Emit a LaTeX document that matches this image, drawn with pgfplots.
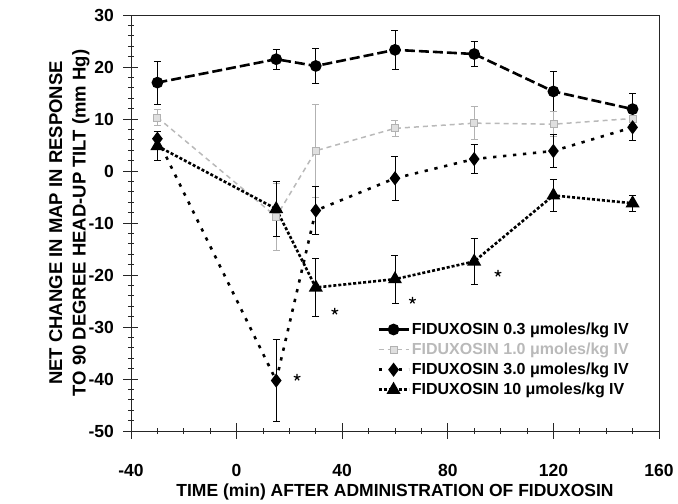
\documentclass[border=0pt]{standalone}
\usepackage{fontspec}
\setmainfont{Liberation Sans}
\usepackage{pgfplots}
\pgfplotsset{compat=1.18}
\begin{document}
\begin{tikzpicture}
\begin{axis}[
 scale only axis, width=528pt, height=416pt,
 xmin=-40, xmax=160, ymin=-50, ymax=30,
 xtick={-40,0,40,80,120,160}, ytick={-50,-40,...,30},
 minor x tick num=3, minor y tick num=4,
 tick pos=left, tick align=center,
 major tick length=15pt, minor tick length=6pt,
 every tick/.style={black!85, line width=0.7pt},
 axis line style={black!85, line width=0.9pt},
 /pgf/number format/assume math mode=true,
 ticklabel style={font=\fontsize{17.5}{20}\selectfont\bfseries},
 xticklabel style={yshift=-22pt},
 yticklabel style={xshift=-6pt},
 xlabel={TIME (min) AFTER ADMINISTRATION OF FIDUXOSIN},
 xlabel style={font=\fontsize{17.5}{20}\selectfont\bfseries, at={(axis description cs:0.5,0)}, anchor=north, yshift=-49pt},
 ylabel={NET CHANGE IN MAP IN RESPONSE\\TO 90 DEGREE HEAD-UP TILT (mm Hg)},
 ylabel style={font=\fontsize{18.5}{23.5}\selectfont\bfseries, at={(axis description cs:-0.072,0.5)}, anchor=south, align=center},
 legend style={at={(axis description cs:0.466,0.265)}, anchor=north west, draw=none, fill=none,
   font=\fontsize{16}{19}\selectfont\bfseries, row sep=3pt, inner sep=0pt},
 legend cell align=left,
 legend image code/.code={\draw[mark repeat=2,mark phase=2] plot coordinates {(0pt,0pt) (15pt,0pt) (30pt,0pt)};},
]
\coordinate (O) at (rel axis cs:0,0);
% 0.3 umol/kg
\addplot[black, line width=2.6pt, dash pattern=on 10pt off 4pt, mark=*, mark size=4.5pt,
  mark options={solid}, legend image post style={solid},
  error bars/.cd, y dir=both, y explicit, error bar style={line width=0.8pt, solid},
  error mark options={rotate=90, mark size=3.5pt, line width=0.8pt, solid}]
 table[y error=e] {
x y e
-30 17.0 4.1
15 21.5 1.9
30 20.2 3.3
60 23.3 3.7
90 22.5 2.4
120 15.3 3.8
150 11.9 3.0
};
\addlegendentry{FIDUXOSIN 0.3 μmoles/kg IV}
% 1.0 umol/kg (grey)
\addplot[gray!55, line width=1.5pt, dash pattern=on 5pt off 4pt, mark=square*, mark size=3.5pt,
  mark options={solid, fill=gray!25, draw=gray!60, line width=0.8pt},
  error bars/.cd, y dir=both, y explicit, error bar style={line width=0.8pt, solid, gray!60},
  error mark options={rotate=90, mark size=3.5pt, line width=0.8pt, solid, gray!60}]
 table[y error=e] {
x y e
-30 10.3 1.5
15 -8.8 6.5
30 3.9 9.0
60 8.2 1.5
90 9.2 3.2
120 9.0 2.4
150 10.1 1.5
};
\addlegendentry{\textcolor{gray!55}{FIDUXOSIN 1.0 μmoles/kg IV}}
% 3.0 umol/kg
\addplot[black, line width=2.6pt, dash pattern=on 3.3pt off 6.7pt, mark=diamond*, mark size=5pt,
  mark options={solid},
  error bars/.cd, y dir=both, y explicit, error bar style={line width=0.8pt, solid},
  error mark options={rotate=90, mark size=3.5pt, line width=0.8pt, solid}]
 table[y error=e] {
x y e
-30 6.2 1.5
15 -40.3 7.9
30 -7.6 4.6
60 -1.4 4.3
90 2.3 2.8
120 3.85 3.2
150 8.4 2.6
};
\addlegendentry{FIDUXOSIN 3.0 μmoles/kg IV}
% 10 umol/kg
\addplot[black, line width=2.6pt, dash pattern=on 3pt off 2pt, mark=triangle*, mark size=5.5pt,
  mark options={solid},
  error bars/.cd, y dir=both, y explicit, error bar style={line width=0.8pt, solid},
  error mark options={rotate=90, mark size=3.5pt, line width=0.8pt, solid}]
 table[y error=e] {
x y e
-30 4.8 2.8
15 -7.3 5.3
30 -22.4 5.6
60 -20.8 4.6
90 -17.4 4.5
120 -4.7 3.0
150 -6.2 1.6
};
\addlegendentry{FIDUXOSIN 10 μmoles/kg IV}
% significance stars
\addplot[only marks, mark=star, mark size=3.5pt, line width=1.2pt, black, forget plot]
 coordinates {(22.9,-39.7) (37.2,-27) (66.6,-24.9) (99,-19.7)};
\end{axis}
\path (O) ++(-131pt,-71pt) rectangle ++(678pt,502pt);
\end{tikzpicture}
\end{document}
